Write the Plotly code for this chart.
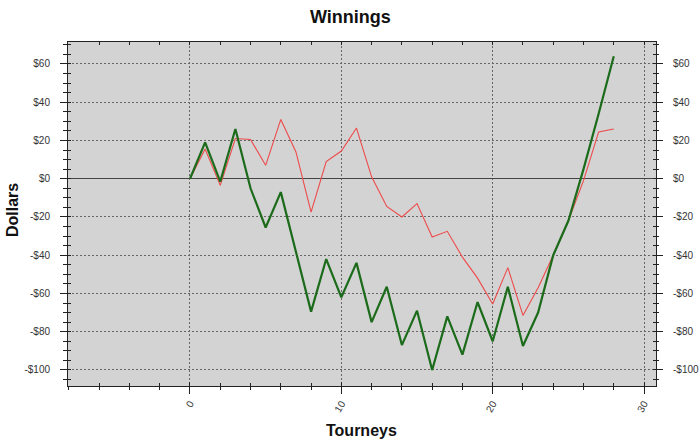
import plotly.graph_objects as go

tourneys = list(range(29))
green_vals = [0, 19, -1.5, 26, -5, -25.5, -7, -38, -69.5, -42, -62, -44, -75, -56.5,
              -87, -69, -100, -72, -92, -64.5, -85, -56.5, -87.5, -70, -40, -22, 5, 34, 64]
red_vals = [0, 15.5, -3.5, 21, 20.5, 7, 31, 14, -17.5, 9, 14.5, 26.5, 1, -14.5, -20,
            -13, -30.5, -27.5, -41, -52, -65.5, -46.5, -71.5, -57, -40, -22, -1, 24.5, 26]
y_tickvals = [-100, -80, -60, -40, -20, 0, 20, 40, 60]
y_ticktext = [("-$%d" % abs(v)) if v < 0 else ("$%d" % v) for v in y_tickvals]
x_range = [-8.06, 30.79]
y_range = [-108.4, 71.5]

FONT = "Liberation Sans, Arial, sans-serif"
AX = "#222222"
GRID = "#666666"

fig = go.Figure()
fig.add_trace(go.Scatter(x=tourneys, y=red_vals, mode="lines",
                         line=dict(color="#ee4a4a", width=1.1), showlegend=False))
fig.add_trace(go.Scatter(x=tourneys, y=green_vals, mode="lines",
                         line=dict(color="#1b6b1b", width=2.2), showlegend=False))
# invisible helper traces so the overlay axes are drawn
for xa, ya in [("x2", "y2"), ("x3", "y3"), ("x", "y4")]:
    fig.add_trace(go.Scatter(x=tourneys, y=green_vals, xaxis=xa, yaxis=ya, mode="lines",
                             line=dict(width=0), opacity=0, hoverinfo="skip", showlegend=False))

common_x = dict(range=x_range, tickmode="linear", tick0=0, dtick=10, zeroline=False, automargin=False)
common_y = dict(range=y_range, tickmode="array", tickvals=y_tickvals, automargin=False)

fig.update_layout(
    width=700, height=441,
    margin=dict(l=68, r=44, t=42, b=55, autoexpand=False),
    paper_bgcolor="white", plot_bgcolor="#d3d3d3",
    font=dict(family=FONT, size=10, color=AX),
    xaxis=dict(**common_x, ticks="outside", ticklen=7, tickcolor=AX,
               minor=dict(dtick=2, tick0=0, ticks="outside", ticklen=3, tickcolor=AX, showgrid=False),
               showgrid=True, gridcolor=GRID, griddash="2px,2px", gridwidth=1,
               showline=True, linecolor=AX, linewidth=1, tickangle=-60,
               tickfont=dict(size=10, color="#333")),
    xaxis2=dict(**common_x, overlaying="x", side="top", anchor="y", ticks="inside", ticklen=3,
                tickcolor=AX, minor=dict(dtick=2, tick0=0, ticks="inside", ticklen=3, tickcolor=AX),
                showgrid=False, showline=True, linecolor=AX, showticklabels=False),
    xaxis3=dict(**common_x, overlaying="x", side="bottom", anchor="y", ticks="inside", ticklen=4,
                tickcolor=AX, minor=dict(dtick=2, tick0=0, ticks="inside", ticklen=3, tickcolor=AX),
                showgrid=False, showline=False, showticklabels=False),
    yaxis=dict(**common_y, ticktext=y_ticktext, ticks="outside", ticklen=7, tickcolor=AX,
               minor=dict(dtick=5, tick0=0, ticks="outside", ticklen=4, tickcolor=AX, showgrid=False),
               showgrid=True, gridcolor=GRID, griddash="2px,2px", gridwidth=1,
               zeroline=True, zerolinecolor="#444444", zerolinewidth=1,
               showline=True, linecolor=AX, linewidth=1, ticklabelstandoff=8,
               tickfont=dict(size=10, color="#333")),
    yaxis2=dict(**common_y, ticktext=y_ticktext, overlaying="y", side="right", anchor="x",
                ticks="outside", ticklen=6, tickcolor=AX,
                minor=dict(dtick=5, tick0=0, ticks="outside", ticklen=2, tickcolor=AX),
                showgrid=False, zeroline=False, showline=True, linecolor=AX,
                ticklabelstandoff=8, tickfont=dict(size=10, color="#333")),
    yaxis3=dict(**common_y, overlaying="y", side="left", anchor="x", ticks="inside", ticklen=3,
                tickcolor=AX, minor=dict(dtick=5, tick0=0, ticks="inside", ticklen=3, tickcolor=AX),
                showgrid=False, zeroline=False, showline=False, showticklabels=False),
    yaxis4=dict(**common_y, overlaying="y", side="right", anchor="x", ticks="inside", ticklen=3,
                tickcolor=AX, minor=dict(dtick=5, tick0=0, ticks="inside", ticklen=3, tickcolor=AX),
                showgrid=False, zeroline=False, showline=False, showticklabels=False),
    annotations=[
        dict(text="<b>Winnings</b>", xref="paper", yref="paper", x=0.48, y=1.0727,
             xanchor="center", yanchor="middle", showarrow=False,
             font=dict(family=FONT, size=18, color="#111")),
        dict(text="<b>Tourneys</b>", xref="paper", yref="paper", x=0.499, y=-0.128,
             xanchor="center", yanchor="middle", showarrow=False,
             font=dict(family=FONT, size=16, color="#111")),
        dict(text="<b>Dollars</b>", xref="paper", yref="paper", x=-0.0952, y=0.5116,
             xanchor="center", yanchor="middle", showarrow=False, textangle=-90,
             font=dict(family=FONT, size=16, color="#111")),
    ],
)

fig.write_html("out.html", config={"displayModeBar": False})
with open("out.html", "r", encoding="utf-8") as f:
    html = f.read()
html = html.replace("<head>", "<head><style>html,body{margin:0;padding:0;overflow:hidden;}</style>", 1)
with open("out.html", "w", encoding="utf-8") as f:
    f.write(html)
